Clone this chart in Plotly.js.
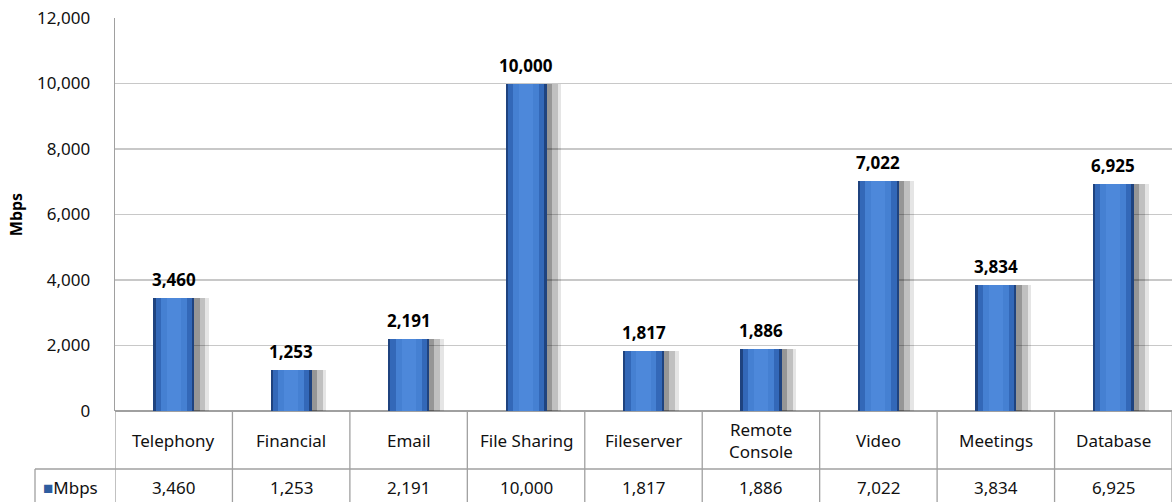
<!DOCTYPE html>
<html>
<head>
<meta charset="utf-8">
<script src="https://cdn.plot.ly/plotly-3.0.1.min.js"></script>
<style>html,body{margin:0;padding:0;background:#fff;}#chart{width:1172px;height:502px;}</style>
</head>
<body>
<div id="chart"></div>
<script>
const categories = ["Telephony", "Financial", "Email", "File Sharing", "Fileserver", "Remote Console", "Video", "Meetings", "Database"];
const categoryLabels = ["Telephony", "Financial", "Email", "File Sharing", "Fileserver", "Remote<br>Console", "Video", "Meetings", "Database"];
const mbps = [3460, 1253, 2191, 10000, 1817, 1886, 7022, 3834, 6925];
const seriesName = "Mbps";
const yTicks = [0, 2000, 4000, 6000, 8000, 10000, 12000];

const FONT = "Noto Sans, Open Sans, sans-serif";
const idx = categories.map((c, i) => i);
const fmt = v => v.toLocaleString("en-US");

function layer(width, shift, color, extra) {
  return Object.assign({
    type: "bar", x: idx, y: mbps, width: width, offset: -width / 2 + shift,
    marker: {color: color, line: {width: 0}}, hoverinfo: "skip", showlegend: false
  }, extra || {});
}

const traces = [
  layer(0.38, 0.11, "rgba(0,0,0,0.10)"),
  layer(0.32, 0.11, "rgba(0,0,0,0.16)"),
  layer(0.24, 0.10, "rgba(0,0,0,0.22)"),
  layer(0.35, 0, "#1f437f", {name: seriesName, hoverinfo: "y"}),
  layer(0.31, 0, "#3368b8"),
  layer(0.22, 0, "#4580d2"),
  layer(0.12, 0, "#4d88da")
];

const plotH = 393;
const toPaperY = px => -(px) / plotH; // px below plot bottom
const shapes = [];
const lineStyle = {color: "#a0a0a0", width: 1.3};
for (let i = 0; i <= categories.length; i++) {
  shapes.push({type: "line", xref: "x", yref: "paper", x0: i - 0.5, x1: i - 0.5, y0: 0, y1: toPaperY(95), line: lineStyle});
}
shapes.push({type: "line", xref: "paper", yref: "paper", x0: -80 / 1057, x1: 1, y0: toPaperY(58), y1: toPaperY(58), line: lineStyle});
shapes.push({type: "line", xref: "paper", yref: "paper", x0: -80 / 1057, x1: -80 / 1057, y0: toPaperY(58), y1: toPaperY(95), line: lineStyle});

const annotations = [];
categoryLabels.forEach((c, i) => {
  annotations.push({xref: "x", yref: "paper", x: i, y: toPaperY(30), text: c, showarrow: false,
    font: {family: FONT, size: 17, color: "#111"}, xanchor: "center", yanchor: "middle"});
  annotations.push({xref: "x", yref: "paper", x: i, y: toPaperY(76), text: fmt(mbps[i]), showarrow: false,
    font: {family: FONT, size: 17, color: "#111"}, xanchor: "center", yanchor: "middle"});
  annotations.push({xref: "x", yref: "y", x: i, y: mbps[i], text: fmt(mbps[i]), showarrow: false,
    font: {family: FONT, size: 17, color: "#000", weight: "bold"}, xanchor: "center", yanchor: "bottom", yshift: 5});
});
annotations.push({xref: "paper", yref: "paper", x: -74 / 1057, y: toPaperY(76), xanchor: "left", yanchor: "middle",
  text: '<span style="color:#2f5d9f;font-size:17px">■</span>' + seriesName, showarrow: false,
  font: {family: FONT, size: 17, color: "#111"}});

const layout = {
  width: 1172, height: 502,
  margin: {l: 115, r: 0, t: 18, b: 91},
  paper_bgcolor: "#fff", plot_bgcolor: "#fff",
  barmode: "overlay", bargap: 0,
  showlegend: false,
  xaxis: {range: [-0.5, categories.length - 0.5], showticklabels: false, showgrid: false, zeroline: false,
    showline: false, ticks: "", fixedrange: true},
  yaxis: {range: [0, 12000], tickvals: yTicks, ticktext: yTicks.map(fmt), showgrid: true, gridcolor: "#c8c8c8", gridwidth: 1.3,
    zeroline: true, zerolinecolor: "#a0a0a0", zerolinewidth: 1.3,
    showline: true, linecolor: "#a0a0a0", linewidth: 1.3, ticks: "", ticklabelstandoff: 20,
    tickfont: {family: FONT, size: 17, color: "#111"},
    title: {text: "Mbps", font: {family: FONT, size: 16, color: "#000", weight: "bold"}, standoff: 10}},
  shapes: shapes,
  annotations: annotations,
  font: {family: FONT}
};

Plotly.newPlot("chart", traces, layout, {displayModeBar: false, staticPlot: true});
</script>
</body>
</html>
